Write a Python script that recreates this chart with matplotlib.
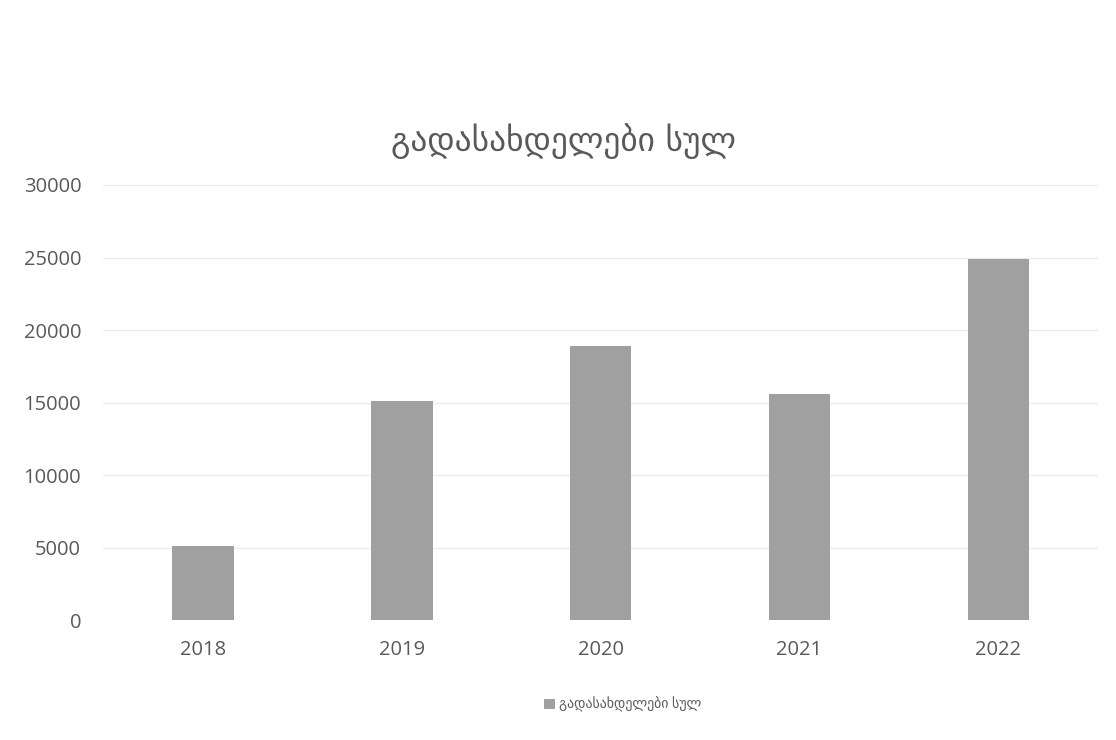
import matplotlib
matplotlib.use("Agg")
import matplotlib.pyplot as plt

plt.rcParams['font.family'] = ['Open Sans', 'DejaVu Sans']

years = ["2018", "2019", "2020", "2021", "2022"]
values = [5100, 15100, 18900, 15600, 24900]
series_name = "გადასახდელები სულ"
title = "გადასახდელები სულ"
yticks = [0, 5000, 10000, 15000, 20000, 25000, 30000]

txt = '#595959'
fig = plt.figure(figsize=(11.16, 7.40), dpi=100)
ax = fig.add_axes([0.0927, 0.162, 0.891, 0.588])
x = list(range(len(years)))
ax.bar(x, values, width=0.31, color='#a0a0a0', label=series_name, zorder=3)
ax.set_xlim(-0.5, len(years) - 0.5)
ax.set_ylim(0, 30000)
ax.set_yticks(yticks)
ax.set_yticklabels([str(v) for v in yticks])
ax.set_xticks(x)
ax.set_xticklabels(years)
ax.grid(axis='y', color='#ebebeb', linewidth=1, zorder=0)
for s in ax.spines.values():
    s.set_visible(False)
ax.tick_params(axis='both', length=0, labelsize=14.5, labelcolor=txt)
ax.tick_params(axis='y', pad=16)
ax.tick_params(axis='x', pad=14)
fig.text(0.505, 0.81, title, ha='center', va='center', fontsize=24, color=txt,
         family=['DejaVu Sans'])
leg = fig.legend(loc='center', bbox_to_anchor=(0.558, 0.047), frameon=False,
                 fontsize=10, handlelength=0.8, handleheight=0.8, handletextpad=0.3)
for t in leg.get_texts():
    t.set_color(txt)
fig.savefig("out.png", dpi=100, facecolor='white')
